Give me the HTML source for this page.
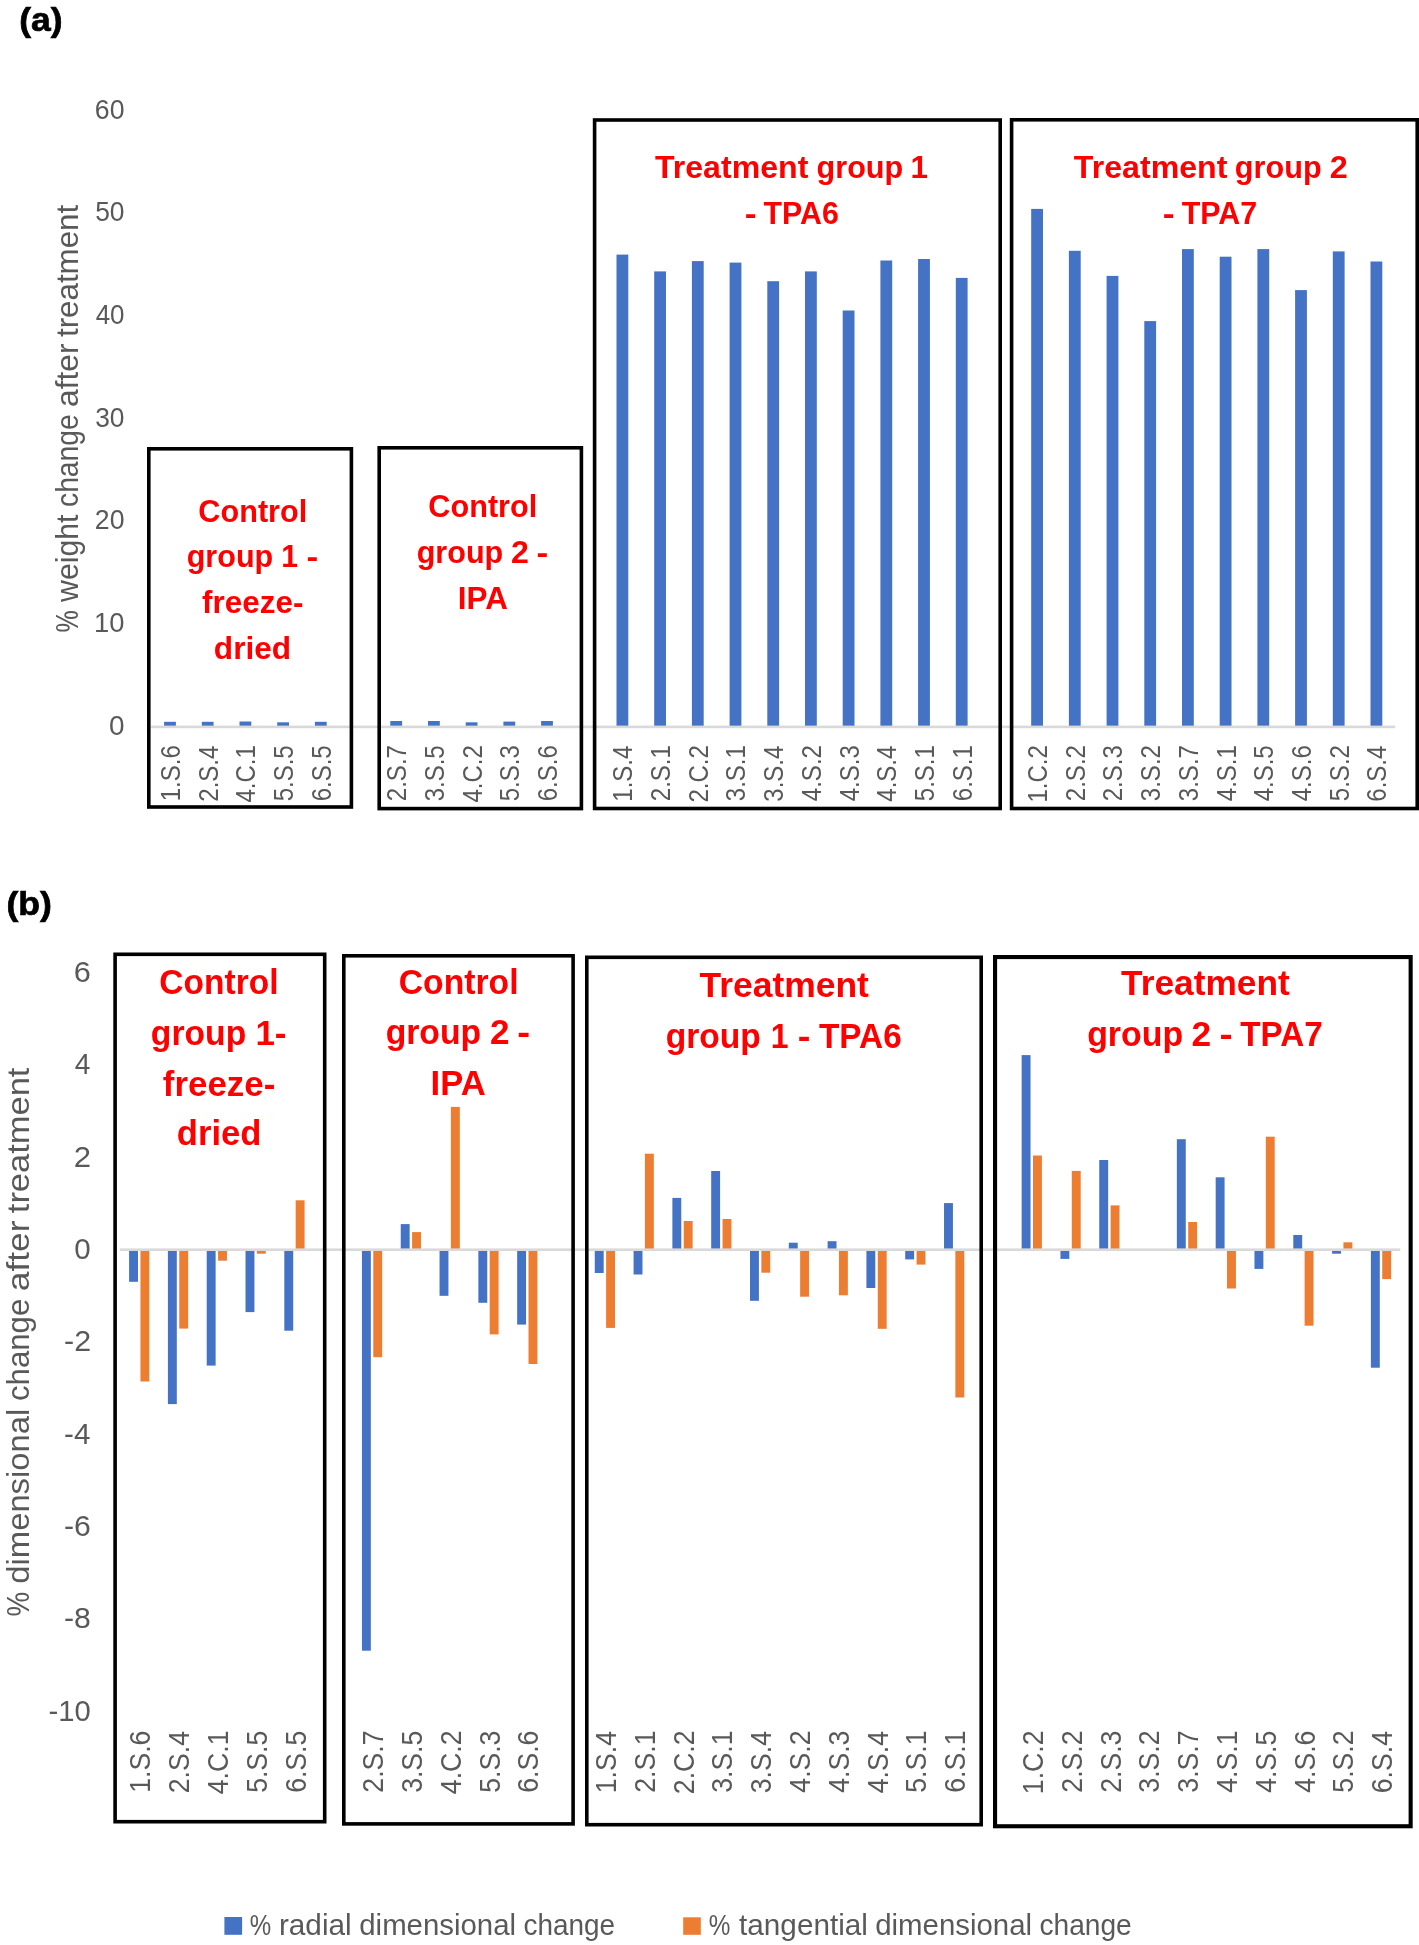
<!DOCTYPE html>
<html><head><meta charset="utf-8"><style>
html,body{margin:0;padding:0;background:#fff;}
svg{display:block;font-family:"Liberation Sans",sans-serif;will-change:transform;}
</style></head><body>
<svg width="1419" height="1945" viewBox="0 0 1419 1945">
<rect x="0" y="0" width="1419" height="1945" fill="#fff"/>
<text stroke="#000" stroke-width="0.7" x="19.23" y="30.80" font-size="33.6" fill="#000" font-weight="bold" textLength="43.38" lengthAdjust="spacingAndGlyphs">(a)</text>
<text x="109.04" y="734.60" font-size="27.3" fill="#595959" textLength="15.53" lengthAdjust="spacingAndGlyphs">0</text>
<text x="94.12" y="631.97" font-size="27.3" fill="#595959" textLength="30.43" lengthAdjust="spacingAndGlyphs">10</text>
<text x="94.87" y="529.34" font-size="27.3" fill="#595959" textLength="29.65" lengthAdjust="spacingAndGlyphs">20</text>
<text x="95.20" y="426.71" font-size="27.3" fill="#595959" textLength="29.31" lengthAdjust="spacingAndGlyphs">30</text>
<text x="95.63" y="324.08" font-size="27.3" fill="#595959" textLength="28.87" lengthAdjust="spacingAndGlyphs">40</text>
<text x="95.14" y="221.45" font-size="27.3" fill="#595959" textLength="29.37" lengthAdjust="spacingAndGlyphs">50</text>
<text x="94.87" y="118.82" font-size="27.3" fill="#595959" textLength="29.65" lengthAdjust="spacingAndGlyphs">60</text>
<text transform="translate(77.80,632.40) rotate(-90)" x="0" y="0" font-size="30.5" fill="#595959" textLength="22.28" lengthAdjust="spacingAndGlyphs">%</text>
<text transform="translate(77.80,601.94) rotate(-90)" x="0" y="0" font-size="30.5" fill="#595959" textLength="87.40" lengthAdjust="spacingAndGlyphs">weight</text>
<text transform="translate(77.80,506.99) rotate(-90)" x="0" y="0" font-size="30.5" fill="#595959" textLength="92.75" lengthAdjust="spacingAndGlyphs">change</text>
<text transform="translate(77.80,406.93) rotate(-90)" x="0" y="0" font-size="30.5" fill="#595959" textLength="63.47" lengthAdjust="spacingAndGlyphs">after</text>
<text transform="translate(77.80,337.04) rotate(-90)" x="0" y="0" font-size="30.5" fill="#595959" textLength="132.19" lengthAdjust="spacingAndGlyphs">treatment</text>
<rect x="164.10" y="721.80" width="11.80" height="5.10" fill="#4472C4"/>
<rect x="201.80" y="721.80" width="11.80" height="5.10" fill="#4472C4"/>
<rect x="239.50" y="721.50" width="11.80" height="5.40" fill="#4472C4"/>
<rect x="277.20" y="722.30" width="11.80" height="4.60" fill="#4472C4"/>
<rect x="314.90" y="721.80" width="11.80" height="5.10" fill="#4472C4"/>
<rect x="390.30" y="721.00" width="11.80" height="5.90" fill="#4472C4"/>
<rect x="428.00" y="721.00" width="11.80" height="5.90" fill="#4472C4"/>
<rect x="465.70" y="722.30" width="11.80" height="4.60" fill="#4472C4"/>
<rect x="503.40" y="721.60" width="11.80" height="5.30" fill="#4472C4"/>
<rect x="541.10" y="721.00" width="11.80" height="5.90" fill="#4472C4"/>
<rect x="616.50" y="254.60" width="11.80" height="472.30" fill="#4472C4"/>
<rect x="654.20" y="271.40" width="11.80" height="455.50" fill="#4472C4"/>
<rect x="691.90" y="261.10" width="11.80" height="465.80" fill="#4472C4"/>
<rect x="729.60" y="262.60" width="11.80" height="464.30" fill="#4472C4"/>
<rect x="767.30" y="281.20" width="11.80" height="445.70" fill="#4472C4"/>
<rect x="805.00" y="271.40" width="11.80" height="455.50" fill="#4472C4"/>
<rect x="842.70" y="310.50" width="11.80" height="416.40" fill="#4472C4"/>
<rect x="880.40" y="260.50" width="11.80" height="466.40" fill="#4472C4"/>
<rect x="918.10" y="259.00" width="11.80" height="467.90" fill="#4472C4"/>
<rect x="955.80" y="277.90" width="11.80" height="449.00" fill="#4472C4"/>
<rect x="1031.20" y="208.90" width="11.80" height="518.00" fill="#4472C4"/>
<rect x="1068.90" y="250.80" width="11.80" height="476.10" fill="#4472C4"/>
<rect x="1106.60" y="275.90" width="11.80" height="451.00" fill="#4472C4"/>
<rect x="1144.30" y="321.10" width="11.80" height="405.80" fill="#4472C4"/>
<rect x="1182.00" y="249.10" width="11.80" height="477.80" fill="#4472C4"/>
<rect x="1219.70" y="256.70" width="11.80" height="470.20" fill="#4472C4"/>
<rect x="1257.40" y="249.10" width="11.80" height="477.80" fill="#4472C4"/>
<rect x="1295.10" y="290.10" width="11.80" height="436.80" fill="#4472C4"/>
<rect x="1332.80" y="251.40" width="11.80" height="475.50" fill="#4472C4"/>
<rect x="1370.50" y="261.50" width="11.80" height="465.40" fill="#4472C4"/>
<rect x="151.15" y="725.60" width="1244.10" height="2.60" fill="#D9D9D9"/>
<text transform="translate(179.90,801.31) rotate(-90)" font-size="27.3" fill="#595959" textLength="56.10" lengthAdjust="spacingAndGlyphs">1.S.6</text>
<text transform="translate(217.60,801.70) rotate(-90)" font-size="27.3" fill="#595959" textLength="56.10" lengthAdjust="spacingAndGlyphs">2.S.4</text>
<text transform="translate(255.30,802.56) rotate(-90)" font-size="27.3" fill="#595959" textLength="57.42" lengthAdjust="spacingAndGlyphs">4.C.1</text>
<text transform="translate(293.00,801.36) rotate(-90)" font-size="27.3" fill="#595959" textLength="56.10" lengthAdjust="spacingAndGlyphs">5.S.5</text>
<text transform="translate(330.70,801.36) rotate(-90)" font-size="27.3" fill="#595959" textLength="56.10" lengthAdjust="spacingAndGlyphs">6.S.5</text>
<text transform="translate(406.10,801.17) rotate(-90)" font-size="27.3" fill="#595959" textLength="56.10" lengthAdjust="spacingAndGlyphs">2.S.7</text>
<text transform="translate(443.80,801.36) rotate(-90)" font-size="27.3" fill="#595959" textLength="56.10" lengthAdjust="spacingAndGlyphs">3.S.5</text>
<text transform="translate(481.50,802.52) rotate(-90)" font-size="27.3" fill="#595959" textLength="57.42" lengthAdjust="spacingAndGlyphs">4.C.2</text>
<text transform="translate(519.20,801.31) rotate(-90)" font-size="27.3" fill="#595959" textLength="56.10" lengthAdjust="spacingAndGlyphs">5.S.3</text>
<text transform="translate(556.90,801.31) rotate(-90)" font-size="27.3" fill="#595959" textLength="56.10" lengthAdjust="spacingAndGlyphs">6.S.6</text>
<text transform="translate(632.30,801.70) rotate(-90)" font-size="27.3" fill="#595959" textLength="56.10" lengthAdjust="spacingAndGlyphs">1.S.4</text>
<text transform="translate(670.00,801.22) rotate(-90)" font-size="27.3" fill="#595959" textLength="56.10" lengthAdjust="spacingAndGlyphs">2.S.1</text>
<text transform="translate(707.70,802.52) rotate(-90)" font-size="27.3" fill="#595959" textLength="57.42" lengthAdjust="spacingAndGlyphs">2.C.2</text>
<text transform="translate(745.40,801.22) rotate(-90)" font-size="27.3" fill="#595959" textLength="56.10" lengthAdjust="spacingAndGlyphs">3.S.1</text>
<text transform="translate(783.10,801.70) rotate(-90)" font-size="27.3" fill="#595959" textLength="56.10" lengthAdjust="spacingAndGlyphs">3.S.4</text>
<text transform="translate(820.80,801.17) rotate(-90)" font-size="27.3" fill="#595959" textLength="56.10" lengthAdjust="spacingAndGlyphs">4.S.2</text>
<text transform="translate(858.50,801.31) rotate(-90)" font-size="27.3" fill="#595959" textLength="56.10" lengthAdjust="spacingAndGlyphs">4.S.3</text>
<text transform="translate(896.20,801.70) rotate(-90)" font-size="27.3" fill="#595959" textLength="56.10" lengthAdjust="spacingAndGlyphs">4.S.4</text>
<text transform="translate(933.90,801.22) rotate(-90)" font-size="27.3" fill="#595959" textLength="56.10" lengthAdjust="spacingAndGlyphs">5.S.1</text>
<text transform="translate(971.60,801.22) rotate(-90)" font-size="27.3" fill="#595959" textLength="56.10" lengthAdjust="spacingAndGlyphs">6.S.1</text>
<text transform="translate(1047.00,802.52) rotate(-90)" font-size="27.3" fill="#595959" textLength="57.42" lengthAdjust="spacingAndGlyphs">1.C.2</text>
<text transform="translate(1084.70,801.17) rotate(-90)" font-size="27.3" fill="#595959" textLength="56.10" lengthAdjust="spacingAndGlyphs">2.S.2</text>
<text transform="translate(1122.40,801.31) rotate(-90)" font-size="27.3" fill="#595959" textLength="56.10" lengthAdjust="spacingAndGlyphs">2.S.3</text>
<text transform="translate(1160.10,801.17) rotate(-90)" font-size="27.3" fill="#595959" textLength="56.10" lengthAdjust="spacingAndGlyphs">3.S.2</text>
<text transform="translate(1197.80,801.17) rotate(-90)" font-size="27.3" fill="#595959" textLength="56.10" lengthAdjust="spacingAndGlyphs">3.S.7</text>
<text transform="translate(1235.50,801.22) rotate(-90)" font-size="27.3" fill="#595959" textLength="56.10" lengthAdjust="spacingAndGlyphs">4.S.1</text>
<text transform="translate(1273.20,801.36) rotate(-90)" font-size="27.3" fill="#595959" textLength="56.10" lengthAdjust="spacingAndGlyphs">4.S.5</text>
<text transform="translate(1310.90,801.31) rotate(-90)" font-size="27.3" fill="#595959" textLength="56.10" lengthAdjust="spacingAndGlyphs">4.S.6</text>
<text transform="translate(1348.60,801.17) rotate(-90)" font-size="27.3" fill="#595959" textLength="56.10" lengthAdjust="spacingAndGlyphs">5.S.2</text>
<text transform="translate(1386.30,801.70) rotate(-90)" font-size="27.3" fill="#595959" textLength="56.10" lengthAdjust="spacingAndGlyphs">6.S.4</text>
<rect x="148.80" y="448.80" width="202.60" height="358.20" fill="none" stroke="#000" stroke-width="3.6"/>
<rect x="379.20" y="447.80" width="202.20" height="360.80" fill="none" stroke="#000" stroke-width="3.6"/>
<rect x="594.60" y="120.00" width="405.60" height="688.50" fill="none" stroke="#000" stroke-width="3.6"/>
<rect x="1011.60" y="119.80" width="405.60" height="688.70" fill="none" stroke="#000" stroke-width="3.6"/>
<text x="198.37" y="521.70" font-size="32" fill="#FF0000" font-weight="bold" textLength="108.89" lengthAdjust="spacingAndGlyphs">Control</text>
<text x="186.68" y="566.60" font-size="32" fill="#FF0000" font-weight="bold" textLength="86.56" lengthAdjust="spacingAndGlyphs">group</text>
<text x="281.24" y="566.60" font-size="32" fill="#FF0000" font-weight="bold" textLength="16.71" lengthAdjust="spacingAndGlyphs">1</text>
<text x="306.56" y="566.60" font-size="32" fill="#FF0000" font-weight="bold" textLength="11.71" lengthAdjust="spacingAndGlyphs">-</text>
<text x="202.00" y="612.50" font-size="32" fill="#FF0000" font-weight="bold" textLength="101.35" lengthAdjust="spacingAndGlyphs">freeze-</text>
<text x="213.84" y="659.10" font-size="32" fill="#FF0000" font-weight="bold" textLength="77.32" lengthAdjust="spacingAndGlyphs">dried</text>
<text x="428.37" y="516.70" font-size="32" fill="#FF0000" font-weight="bold" textLength="108.89" lengthAdjust="spacingAndGlyphs">Control</text>
<text x="416.68" y="562.60" font-size="32" fill="#FF0000" font-weight="bold" textLength="86.56" lengthAdjust="spacingAndGlyphs">group</text>
<text x="510.91" y="562.60" font-size="32" fill="#FF0000" font-weight="bold" textLength="17.88" lengthAdjust="spacingAndGlyphs">2</text>
<text x="536.56" y="562.60" font-size="32" fill="#FF0000" font-weight="bold" textLength="11.71" lengthAdjust="spacingAndGlyphs">-</text>
<text x="457.83" y="608.80" font-size="32" fill="#FF0000" font-weight="bold" textLength="50.01" lengthAdjust="spacingAndGlyphs">IPA</text>
<text x="654.91" y="178.20" font-size="32" fill="#FF0000" font-weight="bold" textLength="153.45" lengthAdjust="spacingAndGlyphs">Treatment</text>
<text x="816.58" y="178.20" font-size="32" fill="#FF0000" font-weight="bold" textLength="86.66" lengthAdjust="spacingAndGlyphs">group</text>
<text x="910.56" y="178.20" font-size="32" fill="#FF0000" font-weight="bold" textLength="17.42" lengthAdjust="spacingAndGlyphs">1</text>
<text x="744.65" y="223.70" font-size="32" fill="#FF0000" font-weight="bold" textLength="11.84" lengthAdjust="spacingAndGlyphs">-</text>
<text x="763.54" y="223.70" font-size="32" fill="#FF0000" font-weight="bold" textLength="75.25" lengthAdjust="spacingAndGlyphs">TPA6</text>
<text x="1073.81" y="178.20" font-size="32" fill="#FF0000" font-weight="bold" textLength="153.65" lengthAdjust="spacingAndGlyphs">Treatment</text>
<text x="1234.87" y="178.20" font-size="32" fill="#FF0000" font-weight="bold" textLength="86.77" lengthAdjust="spacingAndGlyphs">group</text>
<text x="1329.70" y="178.20" font-size="32" fill="#FF0000" font-weight="bold" textLength="18.00" lengthAdjust="spacingAndGlyphs">2</text>
<text x="1162.75" y="223.80" font-size="32" fill="#FF0000" font-weight="bold" textLength="11.84" lengthAdjust="spacingAndGlyphs">-</text>
<text x="1181.63" y="223.80" font-size="32" fill="#FF0000" font-weight="bold" textLength="75.50" lengthAdjust="spacingAndGlyphs">TPA7</text>
<text stroke="#000" stroke-width="0.7" x="6.42" y="915.30" font-size="33.6" fill="#000" font-weight="bold" textLength="45.42" lengthAdjust="spacingAndGlyphs">(b)</text>
<text x="73.86" y="981.88" font-size="29.5" fill="#595959" textLength="17.09" lengthAdjust="spacingAndGlyphs">6</text>
<text x="74.78" y="1074.22" font-size="29.5" fill="#595959" textLength="15.61" lengthAdjust="spacingAndGlyphs">4</text>
<text x="73.84" y="1166.56" font-size="29.5" fill="#595959" textLength="17.32" lengthAdjust="spacingAndGlyphs">2</text>
<text x="74.28" y="1258.90" font-size="29.5" fill="#595959" textLength="16.45" lengthAdjust="spacingAndGlyphs">0</text>
<text x="64.06" y="1351.24" font-size="29.5" fill="#595959" textLength="27.03" lengthAdjust="spacingAndGlyphs">-2</text>
<text x="64.10" y="1443.58" font-size="29.5" fill="#595959" textLength="26.31" lengthAdjust="spacingAndGlyphs">-4</text>
<text x="64.07" y="1535.92" font-size="29.5" fill="#595959" textLength="26.83" lengthAdjust="spacingAndGlyphs">-6</text>
<text x="64.07" y="1628.26" font-size="29.5" fill="#595959" textLength="26.83" lengthAdjust="spacingAndGlyphs">-8</text>
<text x="48.41" y="1720.60" font-size="29.5" fill="#595959" textLength="42.28" lengthAdjust="spacingAndGlyphs">-10</text>
<text transform="translate(28.80,1616.60) rotate(-90)" x="0" y="0" font-size="32" fill="#595959" textLength="24.67" lengthAdjust="spacingAndGlyphs">%</text>
<text transform="translate(28.80,1583.68) rotate(-90)" x="0" y="0" font-size="32" fill="#595959" textLength="174.95" lengthAdjust="spacingAndGlyphs">dimensional</text>
<text transform="translate(28.80,1401.01) rotate(-90)" x="0" y="0" font-size="32" fill="#595959" textLength="102.31" lengthAdjust="spacingAndGlyphs">change</text>
<text transform="translate(28.80,1291.18) rotate(-90)" x="0" y="0" font-size="32" fill="#595959" textLength="70.68" lengthAdjust="spacingAndGlyphs">after</text>
<text transform="translate(28.80,1213.18) rotate(-90)" x="0" y="0" font-size="32" fill="#595959" textLength="145.56" lengthAdjust="spacingAndGlyphs">treatment</text>
<rect x="129.10" y="1249.60" width="8.90" height="32.20" fill="#4472C4"/>
<rect x="140.45" y="1249.60" width="8.90" height="131.90" fill="#ED7D31"/>
<rect x="167.91" y="1249.60" width="8.90" height="154.50" fill="#4472C4"/>
<rect x="179.26" y="1249.60" width="8.90" height="79.00" fill="#ED7D31"/>
<rect x="206.71" y="1249.60" width="8.90" height="116.00" fill="#4472C4"/>
<rect x="218.06" y="1249.60" width="8.90" height="11.10" fill="#ED7D31"/>
<rect x="245.52" y="1249.60" width="8.90" height="62.50" fill="#4472C4"/>
<rect x="256.87" y="1249.60" width="8.90" height="4.10" fill="#ED7D31"/>
<rect x="284.32" y="1249.60" width="8.90" height="81.10" fill="#4472C4"/>
<rect x="295.67" y="1200.30" width="8.90" height="49.30" fill="#ED7D31"/>
<rect x="361.94" y="1249.60" width="8.90" height="401.10" fill="#4472C4"/>
<rect x="373.29" y="1249.60" width="8.90" height="107.60" fill="#ED7D31"/>
<rect x="400.74" y="1224.10" width="8.90" height="25.50" fill="#4472C4"/>
<rect x="412.09" y="1232.10" width="8.90" height="17.50" fill="#ED7D31"/>
<rect x="439.55" y="1249.60" width="8.90" height="46.20" fill="#4472C4"/>
<rect x="450.90" y="1106.90" width="8.90" height="142.70" fill="#ED7D31"/>
<rect x="478.35" y="1249.60" width="8.90" height="53.20" fill="#4472C4"/>
<rect x="489.70" y="1249.60" width="8.90" height="84.80" fill="#ED7D31"/>
<rect x="517.16" y="1249.60" width="8.90" height="75.00" fill="#4472C4"/>
<rect x="528.51" y="1249.60" width="8.90" height="114.40" fill="#ED7D31"/>
<rect x="594.77" y="1249.60" width="8.90" height="23.40" fill="#4472C4"/>
<rect x="606.12" y="1249.60" width="8.90" height="78.30" fill="#ED7D31"/>
<rect x="633.58" y="1249.60" width="8.90" height="24.90" fill="#4472C4"/>
<rect x="644.93" y="1153.70" width="8.90" height="95.90" fill="#ED7D31"/>
<rect x="672.38" y="1197.90" width="8.90" height="51.70" fill="#4472C4"/>
<rect x="683.73" y="1221.00" width="8.90" height="28.60" fill="#ED7D31"/>
<rect x="711.19" y="1171.00" width="8.90" height="78.60" fill="#4472C4"/>
<rect x="722.54" y="1219.00" width="8.90" height="30.60" fill="#ED7D31"/>
<rect x="750.00" y="1249.60" width="8.90" height="51.20" fill="#4472C4"/>
<rect x="761.35" y="1249.60" width="8.90" height="23.10" fill="#ED7D31"/>
<rect x="788.80" y="1242.70" width="8.90" height="6.90" fill="#4472C4"/>
<rect x="800.15" y="1249.60" width="8.90" height="47.10" fill="#ED7D31"/>
<rect x="827.61" y="1241.20" width="8.90" height="8.40" fill="#4472C4"/>
<rect x="838.96" y="1249.60" width="8.90" height="45.70" fill="#ED7D31"/>
<rect x="866.41" y="1249.60" width="8.90" height="38.40" fill="#4472C4"/>
<rect x="877.76" y="1249.60" width="8.90" height="79.20" fill="#ED7D31"/>
<rect x="905.22" y="1249.60" width="8.90" height="9.80" fill="#4472C4"/>
<rect x="916.57" y="1249.60" width="8.90" height="15.00" fill="#ED7D31"/>
<rect x="944.03" y="1203.10" width="8.90" height="46.50" fill="#4472C4"/>
<rect x="955.38" y="1249.60" width="8.90" height="147.90" fill="#ED7D31"/>
<rect x="1021.64" y="1055.10" width="8.90" height="194.50" fill="#4472C4"/>
<rect x="1032.99" y="1155.50" width="8.90" height="94.10" fill="#ED7D31"/>
<rect x="1060.44" y="1249.60" width="8.90" height="9.30" fill="#4472C4"/>
<rect x="1071.79" y="1170.90" width="8.90" height="78.70" fill="#ED7D31"/>
<rect x="1099.25" y="1160.00" width="8.90" height="89.60" fill="#4472C4"/>
<rect x="1110.60" y="1205.40" width="8.90" height="44.20" fill="#ED7D31"/>
<rect x="1176.86" y="1139.20" width="8.90" height="110.40" fill="#4472C4"/>
<rect x="1188.21" y="1222.00" width="8.90" height="27.60" fill="#ED7D31"/>
<rect x="1215.67" y="1177.30" width="8.90" height="72.30" fill="#4472C4"/>
<rect x="1227.02" y="1249.60" width="8.90" height="38.90" fill="#ED7D31"/>
<rect x="1254.47" y="1249.60" width="8.90" height="19.30" fill="#4472C4"/>
<rect x="1265.82" y="1136.70" width="8.90" height="112.90" fill="#ED7D31"/>
<rect x="1293.28" y="1235.00" width="8.90" height="14.60" fill="#4472C4"/>
<rect x="1304.63" y="1249.60" width="8.90" height="76.10" fill="#ED7D31"/>
<rect x="1332.09" y="1249.60" width="8.90" height="4.10" fill="#4472C4"/>
<rect x="1343.44" y="1242.30" width="8.90" height="7.30" fill="#ED7D31"/>
<rect x="1370.89" y="1249.60" width="8.90" height="118.10" fill="#4472C4"/>
<rect x="1382.24" y="1249.60" width="8.90" height="29.50" fill="#ED7D31"/>
<rect x="119.75" y="1248.40" width="1280.60" height="2.60" fill="#D9D9D9"/>
<text transform="translate(150.35,1792.81) rotate(-90)" font-size="28.8" fill="#595959" textLength="62.20" lengthAdjust="spacingAndGlyphs">1.S.6</text>
<text transform="translate(189.16,1793.23) rotate(-90)" font-size="28.8" fill="#595959" textLength="62.20" lengthAdjust="spacingAndGlyphs">2.S.4</text>
<text transform="translate(227.96,1794.19) rotate(-90)" font-size="28.8" fill="#595959" textLength="63.67" lengthAdjust="spacingAndGlyphs">4.C.1</text>
<text transform="translate(266.77,1792.86) rotate(-90)" font-size="28.8" fill="#595959" textLength="62.20" lengthAdjust="spacingAndGlyphs">5.S.5</text>
<text transform="translate(305.57,1792.86) rotate(-90)" font-size="28.8" fill="#595959" textLength="62.20" lengthAdjust="spacingAndGlyphs">6.S.5</text>
<text transform="translate(383.19,1792.65) rotate(-90)" font-size="28.8" fill="#595959" textLength="62.20" lengthAdjust="spacingAndGlyphs">2.S.7</text>
<text transform="translate(421.99,1792.86) rotate(-90)" font-size="28.8" fill="#595959" textLength="62.20" lengthAdjust="spacingAndGlyphs">3.S.5</text>
<text transform="translate(460.80,1794.14) rotate(-90)" font-size="28.8" fill="#595959" textLength="63.67" lengthAdjust="spacingAndGlyphs">4.C.2</text>
<text transform="translate(499.60,1792.81) rotate(-90)" font-size="28.8" fill="#595959" textLength="62.20" lengthAdjust="spacingAndGlyphs">5.S.3</text>
<text transform="translate(538.41,1792.81) rotate(-90)" font-size="28.8" fill="#595959" textLength="62.20" lengthAdjust="spacingAndGlyphs">6.S.6</text>
<text transform="translate(616.02,1793.23) rotate(-90)" font-size="28.8" fill="#595959" textLength="62.20" lengthAdjust="spacingAndGlyphs">1.S.4</text>
<text transform="translate(654.83,1792.70) rotate(-90)" font-size="28.8" fill="#595959" textLength="62.20" lengthAdjust="spacingAndGlyphs">2.S.1</text>
<text transform="translate(693.63,1794.14) rotate(-90)" font-size="28.8" fill="#595959" textLength="63.67" lengthAdjust="spacingAndGlyphs">2.C.2</text>
<text transform="translate(732.44,1792.70) rotate(-90)" font-size="28.8" fill="#595959" textLength="62.20" lengthAdjust="spacingAndGlyphs">3.S.1</text>
<text transform="translate(771.25,1793.23) rotate(-90)" font-size="28.8" fill="#595959" textLength="62.20" lengthAdjust="spacingAndGlyphs">3.S.4</text>
<text transform="translate(810.05,1792.65) rotate(-90)" font-size="28.8" fill="#595959" textLength="62.20" lengthAdjust="spacingAndGlyphs">4.S.2</text>
<text transform="translate(848.86,1792.81) rotate(-90)" font-size="28.8" fill="#595959" textLength="62.20" lengthAdjust="spacingAndGlyphs">4.S.3</text>
<text transform="translate(887.66,1793.23) rotate(-90)" font-size="28.8" fill="#595959" textLength="62.20" lengthAdjust="spacingAndGlyphs">4.S.4</text>
<text transform="translate(926.47,1792.70) rotate(-90)" font-size="28.8" fill="#595959" textLength="62.20" lengthAdjust="spacingAndGlyphs">5.S.1</text>
<text transform="translate(965.28,1792.70) rotate(-90)" font-size="28.8" fill="#595959" textLength="62.20" lengthAdjust="spacingAndGlyphs">6.S.1</text>
<text transform="translate(1042.89,1794.14) rotate(-90)" font-size="28.8" fill="#595959" textLength="63.67" lengthAdjust="spacingAndGlyphs">1.C.2</text>
<text transform="translate(1081.69,1792.65) rotate(-90)" font-size="28.8" fill="#595959" textLength="62.20" lengthAdjust="spacingAndGlyphs">2.S.2</text>
<text transform="translate(1120.50,1792.81) rotate(-90)" font-size="28.8" fill="#595959" textLength="62.20" lengthAdjust="spacingAndGlyphs">2.S.3</text>
<text transform="translate(1159.31,1792.65) rotate(-90)" font-size="28.8" fill="#595959" textLength="62.20" lengthAdjust="spacingAndGlyphs">3.S.2</text>
<text transform="translate(1198.11,1792.65) rotate(-90)" font-size="28.8" fill="#595959" textLength="62.20" lengthAdjust="spacingAndGlyphs">3.S.7</text>
<text transform="translate(1236.92,1792.70) rotate(-90)" font-size="28.8" fill="#595959" textLength="62.20" lengthAdjust="spacingAndGlyphs">4.S.1</text>
<text transform="translate(1275.72,1792.86) rotate(-90)" font-size="28.8" fill="#595959" textLength="62.20" lengthAdjust="spacingAndGlyphs">4.S.5</text>
<text transform="translate(1314.53,1792.81) rotate(-90)" font-size="28.8" fill="#595959" textLength="62.20" lengthAdjust="spacingAndGlyphs">4.S.6</text>
<text transform="translate(1353.34,1792.65) rotate(-90)" font-size="28.8" fill="#595959" textLength="62.20" lengthAdjust="spacingAndGlyphs">5.S.2</text>
<text transform="translate(1392.14,1793.23) rotate(-90)" font-size="28.8" fill="#595959" textLength="62.20" lengthAdjust="spacingAndGlyphs">6.S.4</text>
<rect x="115.10" y="954.30" width="209.60" height="867.40" fill="none" stroke="#000" stroke-width="3.6"/>
<rect x="343.80" y="955.80" width="229.30" height="868.10" fill="none" stroke="#000" stroke-width="3.6"/>
<rect x="586.80" y="957.30" width="394.40" height="867.40" fill="none" stroke="#000" stroke-width="3.6"/>
<rect x="995.05" y="957.05" width="415.60" height="869.20" fill="none" stroke="#000" stroke-width="4.1"/>
<text x="159.36" y="994.20" font-size="35" fill="#FF0000" font-weight="bold" textLength="119.11" lengthAdjust="spacingAndGlyphs">Control</text>
<text x="150.85" y="1044.50" font-size="35" fill="#FF0000" font-weight="bold" textLength="95.41" lengthAdjust="spacingAndGlyphs">group</text>
<text x="255.44" y="1044.50" font-size="35" fill="#FF0000" font-weight="bold" textLength="31.03" lengthAdjust="spacingAndGlyphs">1-</text>
<text x="162.84" y="1095.60" font-size="35" fill="#FF0000" font-weight="bold" textLength="112.44" lengthAdjust="spacingAndGlyphs">freeze-</text>
<text x="176.82" y="1145.20" font-size="35" fill="#FF0000" font-weight="bold" textLength="84.52" lengthAdjust="spacingAndGlyphs">dried</text>
<text x="398.75" y="993.80" font-size="35" fill="#FF0000" font-weight="bold" textLength="119.83" lengthAdjust="spacingAndGlyphs">Control</text>
<text x="385.65" y="1044.10" font-size="35" fill="#FF0000" font-weight="bold" textLength="95.52" lengthAdjust="spacingAndGlyphs">group</text>
<text x="489.91" y="1044.10" font-size="35" fill="#FF0000" font-weight="bold" textLength="19.50" lengthAdjust="spacingAndGlyphs">2</text>
<text x="517.23" y="1044.10" font-size="35" fill="#FF0000" font-weight="bold" textLength="12.88" lengthAdjust="spacingAndGlyphs">-</text>
<text x="430.61" y="1094.50" font-size="35" fill="#FF0000" font-weight="bold" textLength="55.22" lengthAdjust="spacingAndGlyphs">IPA</text>
<text x="699.47" y="996.50" font-size="35" fill="#FF0000" font-weight="bold" textLength="169.43" lengthAdjust="spacingAndGlyphs">Treatment</text>
<text x="665.66" y="1048.10" font-size="35" fill="#FF0000" font-weight="bold" textLength="95.21" lengthAdjust="spacingAndGlyphs">group</text>
<text x="770.82" y="1048.10" font-size="35" fill="#FF0000" font-weight="bold" textLength="17.78" lengthAdjust="spacingAndGlyphs">1</text>
<text x="797.76" y="1048.10" font-size="35" fill="#FF0000" font-weight="bold" textLength="12.62" lengthAdjust="spacingAndGlyphs">-</text>
<text x="819.00" y="1048.10" font-size="35" fill="#FF0000" font-weight="bold" textLength="82.70" lengthAdjust="spacingAndGlyphs">TPA6</text>
<text x="1121.08" y="995.30" font-size="35" fill="#FF0000" font-weight="bold" textLength="168.62" lengthAdjust="spacingAndGlyphs">Treatment</text>
<text x="1087.14" y="1046.10" font-size="35" fill="#FF0000" font-weight="bold" textLength="96.03" lengthAdjust="spacingAndGlyphs">group</text>
<text x="1191.60" y="1046.10" font-size="35" fill="#FF0000" font-weight="bold" textLength="19.62" lengthAdjust="spacingAndGlyphs">2</text>
<text x="1219.40" y="1046.10" font-size="35" fill="#FF0000" font-weight="bold" textLength="13.14" lengthAdjust="spacingAndGlyphs">-</text>
<text x="1240.30" y="1046.10" font-size="35" fill="#FF0000" font-weight="bold" textLength="82.56" lengthAdjust="spacingAndGlyphs">TPA7</text>
<rect x="224.40" y="1917.00" width="17.70" height="17.80" fill="#4472C4"/>
<text x="249.73" y="1935.00" font-size="30" fill="#595959" textLength="21.41" lengthAdjust="spacingAndGlyphs">%</text>
<text x="278.94" y="1935.00" font-size="30" fill="#595959" textLength="72.72" lengthAdjust="spacingAndGlyphs">radial</text>
<text x="359.27" y="1935.00" font-size="30" fill="#595959" textLength="156.79" lengthAdjust="spacingAndGlyphs">dimensional</text>
<text x="523.53" y="1935.00" font-size="30" fill="#595959" textLength="91.62" lengthAdjust="spacingAndGlyphs">change</text>
<rect x="683.20" y="1917.30" width="17.60" height="17.50" fill="#ED7D31"/>
<text x="708.72" y="1935.00" font-size="30" fill="#595959" textLength="21.63" lengthAdjust="spacingAndGlyphs">%</text>
<text x="739.08" y="1935.00" font-size="30" fill="#595959" textLength="128.80" lengthAdjust="spacingAndGlyphs">tangential</text>
<text x="875.17" y="1935.00" font-size="30" fill="#595959" textLength="156.89" lengthAdjust="spacingAndGlyphs">dimensional</text>
<text x="1039.42" y="1935.00" font-size="30" fill="#595959" textLength="92.34" lengthAdjust="spacingAndGlyphs">change</text>
</svg>
</body></html>
